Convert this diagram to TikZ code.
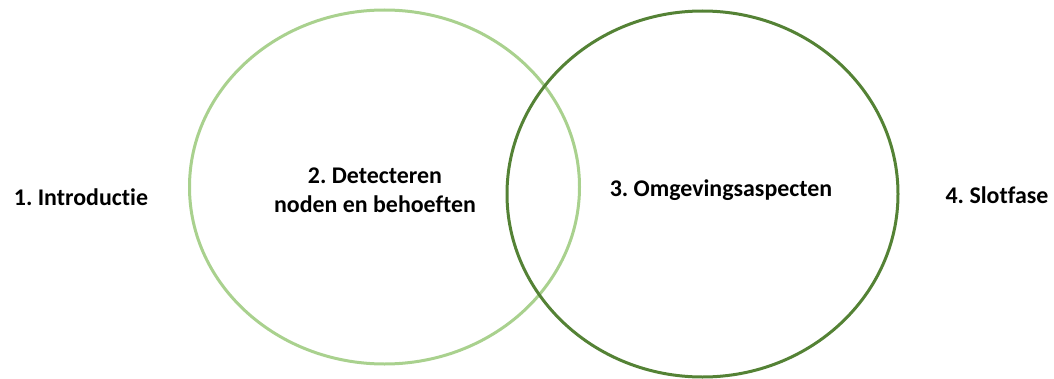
\documentclass[tikz,border=0pt]{standalone}
\usepackage{fontspec}
\setmainfont{Carlito}[Ligatures=NoCommon]
\definecolor{lightg}{HTML}{A9D18E}
\definecolor{darkg}{HTML}{548235}
\frenchspacing
\begin{document}
\begin{tikzpicture}[x=1bp,y=1bp,
  lbl/.style={font=\bfseries\fontsize{24}{29}\selectfont, text=black, align=center, inner sep=0pt},
  ring/.style={line width=3bp}]
\useasboundingbox (0,0) rectangle (1054,378);
\draw[ring, lightg] (384.5,191) ellipse [x radius=195, y radius=177];
\draw[ring, darkg] (702.5,184) ellipse [x radius=195.5, y radius=183];
\node[lbl] (intro) at (81,181) {1. Introductie};
\node[lbl] (detect) at (375,188) {2. Detecteren\\noden en behoeften};
\node[lbl] (omg) at (721,188) {3. Omgevingsaspecten};
\node[lbl] (slot) at (997,183) {4. Slotfase};
\end{tikzpicture}
\end{document}
